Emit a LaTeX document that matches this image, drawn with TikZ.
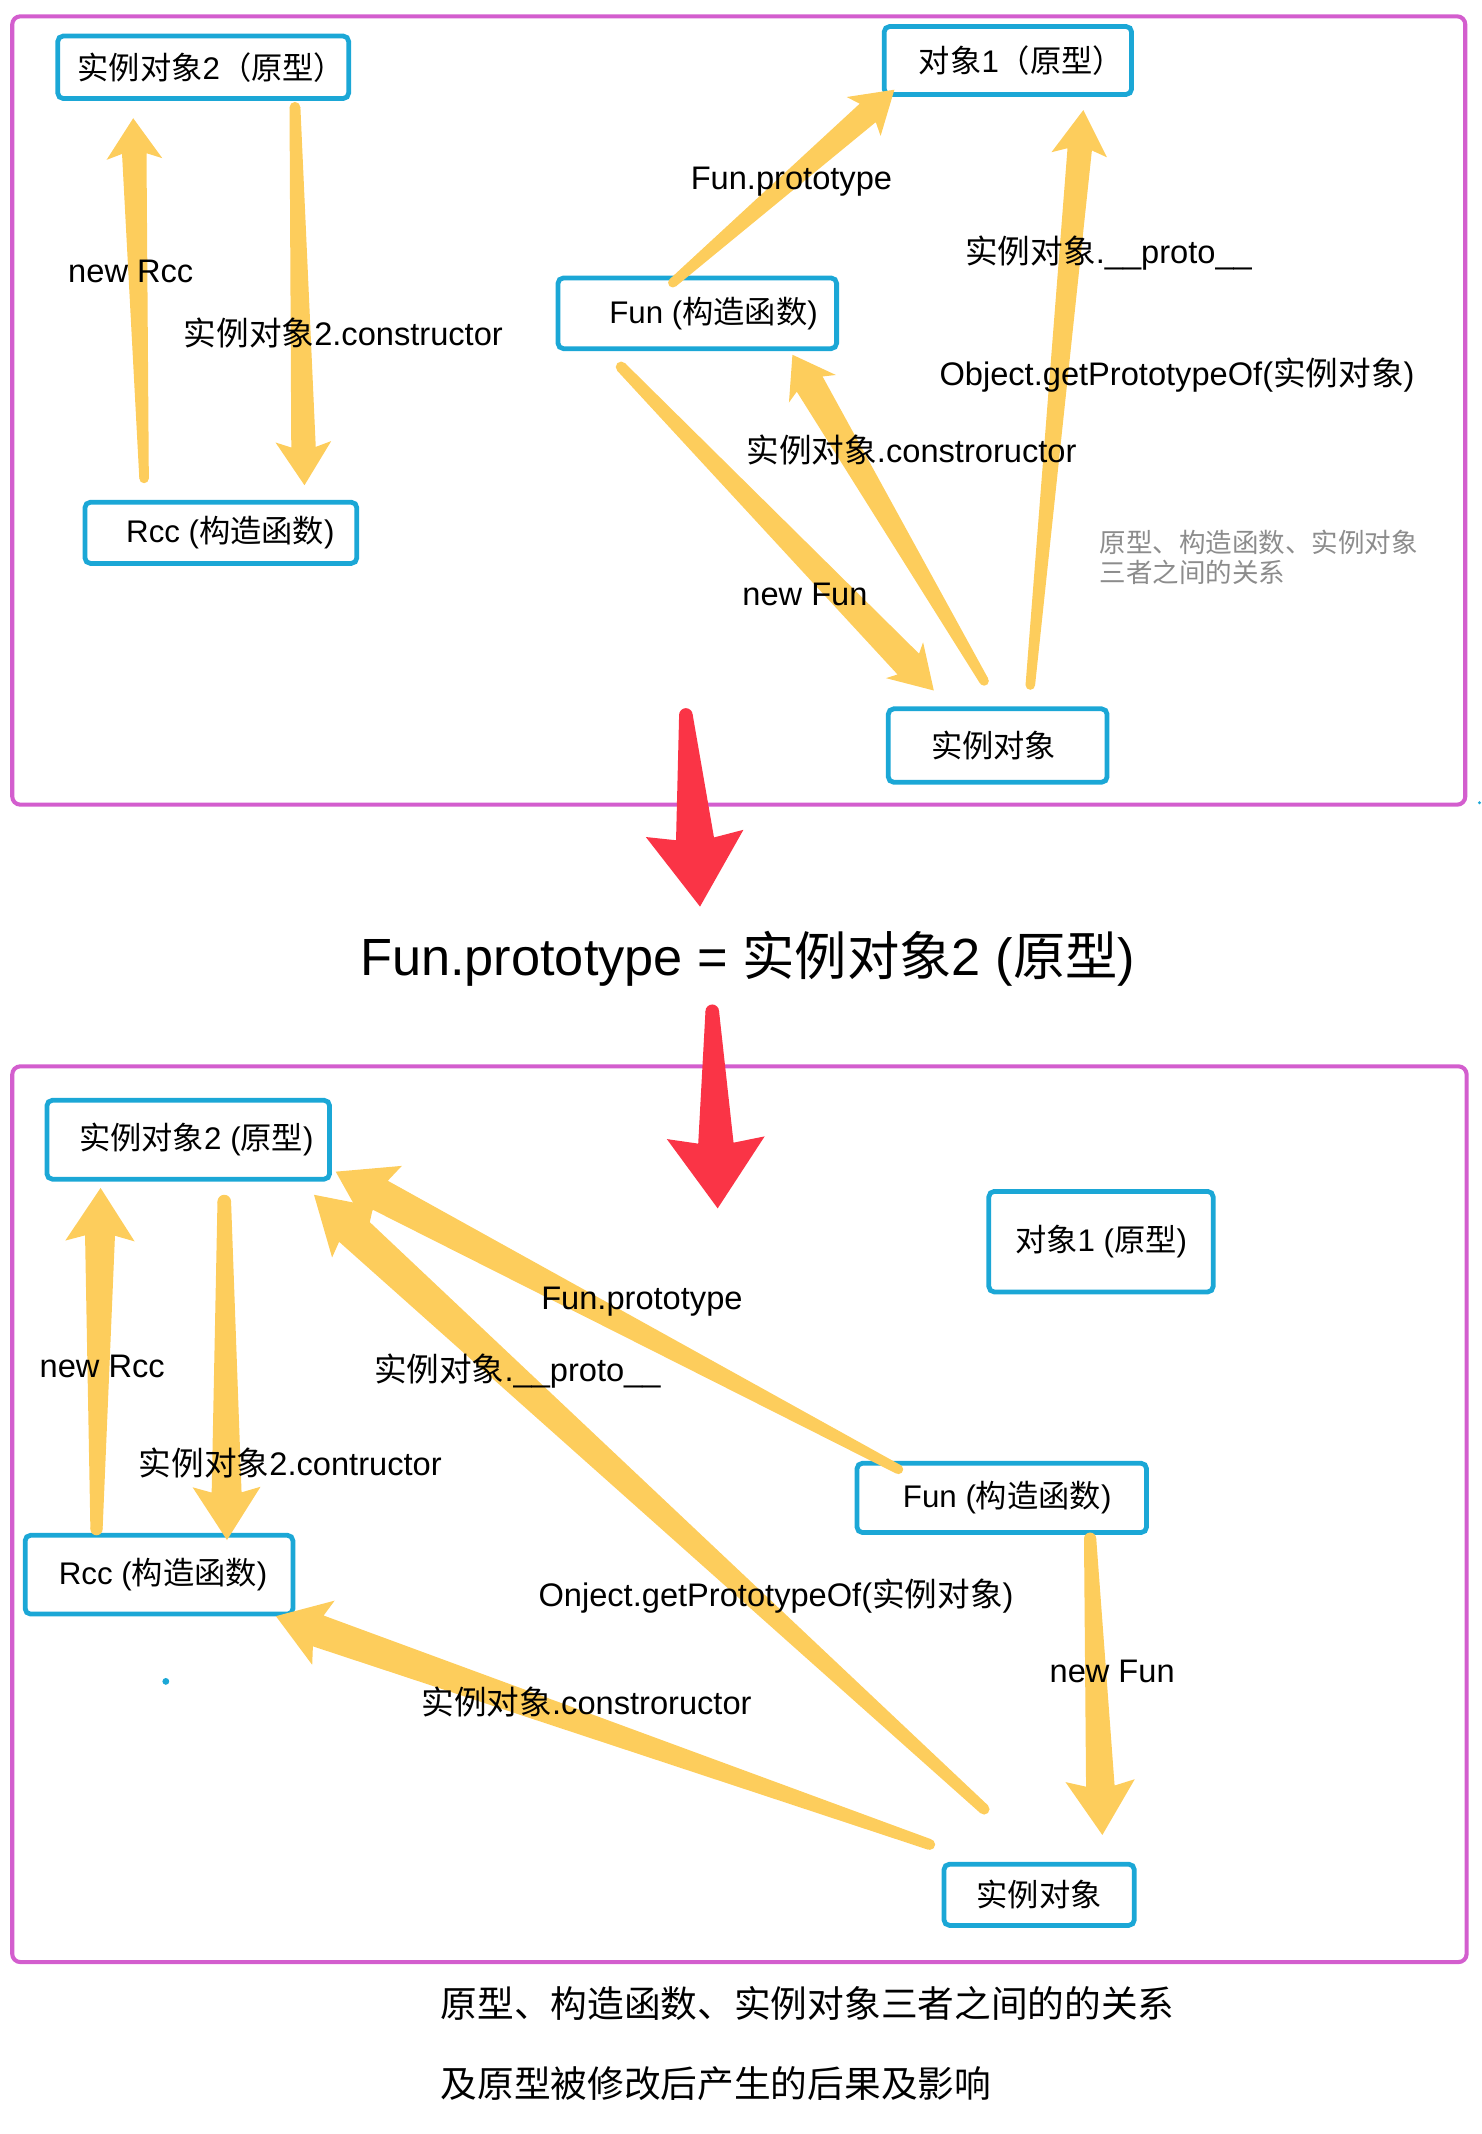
\documentclass[tikz,border=0pt]{standalone}
\usepackage{fontspec}
\setmainfont{Liberation Sans}
\newfontfamily\cj{Noto Sans CJK SC}
\usetikzlibrary{calc}
\definecolor{mag}{RGB}{211,94,206}
\definecolor{boxblue}{RGB}{27,167,214}
\definecolor{arrowyellow}{RGB}{253,205,92}
\definecolor{arrowred}{RGB}{250,52,70}
\definecolor{notegray}{RGB}{140,140,140}
\newcommand\fatarrow[7]{%
  \pgfmathsetlengthmacro\fatA{#3/2}%
  \pgfmathsetlengthmacro\fatB{#4/2}%
  \pgfmathsetlengthmacro\fatC{#5}%
  \pgfmathsetlengthmacro\fatL{#6}%
  \pgfmathsetlengthmacro\fatN{#6-4}%
  \coordinate (fatH) at ($(#2)!\fatL!(#1)$);
  \coordinate (fatJ) at ($(#2)!\fatN!(#1)$);
  \fill[#7] ($(#1)!\fatA!90:(#2)$) -- ($(fatJ)!\fatB!90:(#2)$) -- ($(fatH)!\fatC!90:(#2)$)
    -- (#2) -- ($(fatH)!\fatC!-90:(#2)$) -- ($(fatJ)!\fatB!-90:(#2)$) -- ($(#1)!\fatA!-90:(#2)$) -- cycle;
  \fill[#7] (#1) circle[radius=\fatA];
}
\tikzset{
  panel/.style={draw=mag, line width=3pt, rounded corners=6pt},
  obox/.style={draw=boxblue, line width=3.5pt, rounded corners=4pt, fill=white, inner sep=0pt,
    font=\fontsize{23}{27}\selectfont},
  lbl/.style={anchor=west, inner sep=0pt, font=\fontsize{24}{28}\selectfont},
  note/.style={anchor=west, inner sep=0pt, text=notegray, font=\fontsize{19.5}{24}\selectfont, align=left},
  bigtext/.style={inner sep=0pt, font=\fontsize{38.5}{44}\selectfont},
  captext/.style={anchor=west, inner sep=0pt, font=\fontsize{27}{32}\selectfont},
  ya/.style={fill=arrowyellow},
  ra/.style={fill=arrowred},
}
\begin{document}
\begin{tikzpicture}[x=1pt,y=-1pt]
\useasboundingbox (0,0) rectangle (1090,1570);
% panels
\draw[panel] (9,12) rectangle (1078,592);
\draw[panel] (9,784.5) rectangle (1079,1443.5);

% ---------- top panel boxes ----------
\node[obox, minimum width=214pt, minimum height=46pt] (p2) at (149.5,49.5) {\hspace*{12pt}{\cj 实例对象}2{\cj （原型）}};
\node[obox, minimum width=200pt, minimum height=45pt] (rcc) at (162.5,392) {\hspace*{14pt}Rcc ({\cj 构造函数})};
\node[obox, minimum width=182pt, minimum height=50pt] (o1) at (741.5,44.5) {\hspace*{20pt}{\cj 对象}1{\cj （原型）}};
\node[obox, minimum width=205pt, minimum height=52pt] (fun) at (513,230.5) {\hspace*{24pt}Fun ({\cj 构造函数})};
\node[obox, minimum width=161pt, minimum height=54pt] (inst) at (734,548.5) {{\cj 实例对象}\hspace*{6pt}};

% ---------- top arrows ----------
\coordinate (a1t) at (106,352); \coordinate (a1h) at (98,87);
\coordinate (a2t) at (217,79);  \coordinate (a2h) at (224,357);
\coordinate (a3t) at (495,208); \coordinate (a3h) at (658,66);
\coordinate (a4t) at (457,270); \coordinate (a4h) at (687,508);
\coordinate (a5t) at (724,501); \coordinate (a5h) at (583,261);
\coordinate (a6t) at (758,504); \coordinate (a6h) at (797,81);
\fatarrow{a1t}{a1h}{7}{18}{20.5}{30}{ya}
\fatarrow{a2t}{a2h}{8}{18}{20.5}{32}{ya}
\fatarrow{a3t}{a3h}{7}{18}{19}{30}{ya}
\fatarrow{a4t}{a4h}{8}{22}{19}{31}{ya}
\fatarrow{a5t}{a5h}{7}{22}{20}{29}{ya}
\fatarrow{a6t}{a6h}{7}{18}{20.5}{33}{ya}

% ---------- top labels ----------
\node[lbl] (l1) at (50,200) {new Rcc};
\node[lbl] (l2) at (135,245) {{\cj 实例对象}2.constructor};
\node[lbl] (l3) at (508,134) {Fun.prototype};
\node[lbl] (l4) at (710,186) {{\cj 实例对象}.\_\_proto\_\_};
\node[lbl] (l5) at (691,276) {Object.getPrototypeOf({\cj 实例对象})};
\node[lbl] (l6) at (549,331) {{\cj 实例对象}.constroructor};
\node[lbl] (l7) at (546,437) {new Fun};
\node[note] (nt) at (809,410) {{\cj 原型、构造函数、实例对象}\\[-2pt]{\cj 三者之间的关系}};

% ---------- middle ----------
\coordinate (r1t) at (504.6,526); \coordinate (r1h) at (515,667);
\coordinate (r2t) at (524,744);   \coordinate (r2h) at (528,889);
\fatarrow{r1t}{r1h}{10}{28}{36}{54}{ra}
\node[bigtext] (eq) at (550,705) {Fun.prototype = {\cj 实例对象}2 ({\cj 原型})};

% ---------- bottom panel boxes ----------
\node[obox, minimum width=208pt, minimum height=58pt] (p2b) at (138.5,838.5) {\hspace*{12pt}{\cj 实例对象}2 ({\cj 原型})};
\node[obox, minimum width=197pt, minimum height=58pt] (rccb) at (117,1158.5) {\hspace*{6pt}Rcc ({\cj 构造函数})};
\node[obox, minimum width=165pt, minimum height=74pt] (o1b) at (810,913.5) {{\cj 对象}1 ({\cj 原型})};
\node[obox, minimum width=213pt, minimum height=51pt] (funb) at (737,1102) {\hspace*{8pt}Fun ({\cj 构造函数})};
\node[obox, minimum width=140pt, minimum height=45pt] (instb) at (764.5,1394) {{\cj 实例对象}};

\fatarrow{r2t}{r2h}{10}{26}{36}{52}{ra}

% ---------- bottom arrows ----------
\coordinate (b1t) at (71,1125);  \coordinate (b1h) at (74,874);
\coordinate (b2t) at (165,884);  \coordinate (b2h) at (167,1133);
\coordinate (b3t) at (661,1081); \coordinate (b3h) at (247,862);
\coordinate (b4t) at (724,1331); \coordinate (b4h) at (231,879);
\coordinate (b5t) at (802,1132); \coordinate (b5h) at (811,1350);
\coordinate (b6t) at (684,1357); \coordinate (b6h) at (203,1189);
\fatarrow{b1t}{b1h}{9}{22}{25.5}{39}{ya}
\fatarrow{b2t}{b2h}{10}{22}{25}{39}{ya}
\fatarrow{b3t}{b3h}{7}{24}{26.5}{41}{ya}
\fatarrow{b4t}{b4h}{8}{26}{25}{41}{ya}
\fatarrow{b5t}{b5h}{9}{21}{25.5}{40}{ya}
\fatarrow{b6t}{b6h}{8}{24}{25}{37}{ya}

% ---------- bottom labels ----------
\node[lbl] (m1) at (29,1005) {new Rcc};
\node[lbl] (m2) at (102,1076) {{\cj 实例对象}2.contructor};
\node[lbl] (m3) at (398,958) {Fun.prototype};
\node[lbl] (m4) at (275,1009) {{\cj 实例对象}.\_\_proto\_\_};
\node[lbl] (m5) at (396,1174) {Onject.getPrototypeOf({\cj 实例对象})};
\node[lbl] (m6) at (310,1252) {{\cj 实例对象}.constroructor};
\node[lbl] (m7) at (772,1230) {new Fun};
\fill[boxblue] (122,1237) circle[radius=2.5];
\fill[boxblue] (1088.5,590.6) circle[radius=1.2];

% ---------- caption ----------
\node[captext] (c1) at (324,1474) {\cj 原型、构造函数、实例对象三者之间的的关系};
\node[captext] (c2) at (324,1533) {\cj 及原型被修改后产生的后果及影响};
\end{tikzpicture}
\end{document}
